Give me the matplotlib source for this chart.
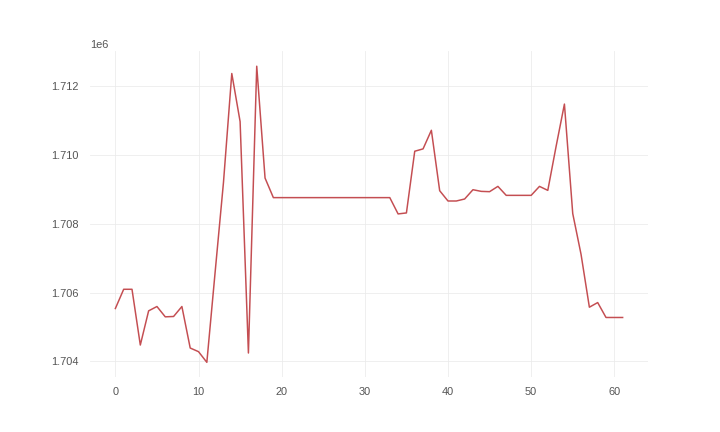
import matplotlib
matplotlib.use("Agg")
import matplotlib.pyplot as plt

# Valores
idx = list(range(62))
valores = [
    1.705535, 1.706094, 1.706094, 1.704473, 1.705467, 1.705593, 1.705293, 1.705303,
    1.705593, 1.704386, 1.704280, 1.703970, 1.706600, 1.709200, 1.712368, 1.710969,
    1.704241, 1.712580, 1.709328, 1.708759, 1.708759, 1.708759, 1.708759, 1.708759,
    1.708759, 1.708759, 1.708759, 1.708759, 1.708759, 1.708759, 1.708759, 1.708759,
    1.708759, 1.708759, 1.708285, 1.708314, 1.710108, 1.710176, 1.710717, 1.708960,
    1.708661, 1.708661, 1.708719, 1.708989, 1.708941, 1.708932, 1.709086, 1.708825,
    1.708825, 1.708825, 1.708825, 1.709086, 1.708970, 1.710250, 1.711479, 1.708295,
    1.707108, 1.705573, 1.705708, 1.705274, 1.705274, 1.705274,
]
valores = [v * 1e6 for v in valores]

plt.rcParams["font.family"] = ["Liberation Sans", "DejaVu Sans"]
plt.rcParams["font.size"] = 11

fig, ax = plt.subplots(figsize=(10, 6), dpi=72)
fig.subplots_adjust(left=0.125, right=0.9, top=0.881, bottom=0.127)
ax.plot(idx, valores, color="#c44e52", linewidth=1.5)

ax.grid(True, color="#ebebeb", linewidth=0.8)
ax.set_axisbelow(True)
for s in ax.spines.values():
    s.set_visible(False)
ax.tick_params(length=0, colors="#555555", labelsize=11)
ax.tick_params(axis="x", pad=10)
ax.tick_params(axis="y", pad=11)
ax.yaxis.get_offset_text().set_color("#555555")
ax.yaxis.get_offset_text().set_fontsize(11)
ax.set_xticks([0, 10, 20, 30, 40, 50, 60])
ax.set_yticks([1.704e6, 1.706e6, 1.708e6, 1.710e6, 1.712e6])

fig.savefig("out.png", dpi=72)
